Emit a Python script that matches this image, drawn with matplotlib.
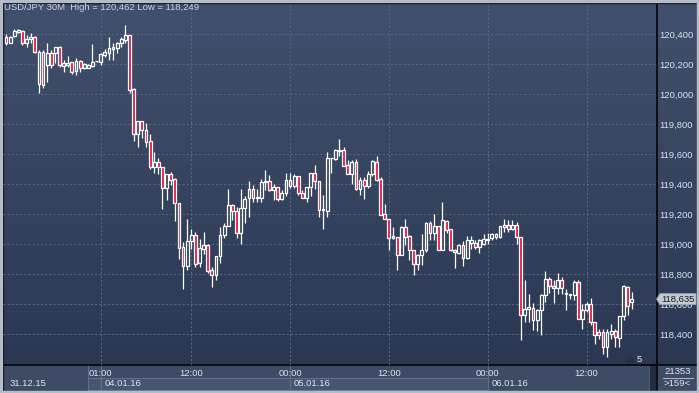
import matplotlib
matplotlib.use("Agg")
import matplotlib.pyplot as plt
import matplotlib.transforms as mtransforms
from matplotlib.patches import Rectangle, Polygon
from matplotlib.lines import Line2D
import numpy as np

plt.rcParams['font.family'] = ['Liberation Sans', 'DejaVu Sans']

# ---------------- data (USD/JPY, 30M candles) ----------------
opens = [
    120.380, 120.342, 120.387, 120.416, 120.422, 120.338, 120.365, 120.382, 120.065, 120.282,
    120.194, 120.272, 120.272, 120.316, 120.189, 120.194, 120.212, 120.154, 120.220, 120.172,
    120.172, 120.189, 120.218, 120.216, 120.260, 120.272, 120.298, 120.305, 120.338, 120.360,
    120.394, 120.034, 119.734, 119.820, 119.760, 119.687, 119.516, 119.545, 119.516, 119.376,
    119.465, 119.434, 119.278, 118.982, 118.856, 119.020, 119.060, 118.876, 118.972, 118.998,
    118.827, 118.798, 118.920, 119.065, 119.122, 119.260, 119.220, 119.078, 119.245, 119.309,
    119.367, 119.309, 119.309, 119.412, 119.420, 119.365, 119.385, 119.305, 119.345, 119.425,
    119.387, 119.452, 119.342, 119.309, 119.385, 119.478, 119.420, 119.227, 119.222, 119.575,
    119.571, 119.622, 119.627, 119.527, 119.471, 119.545, 119.367, 119.427, 119.389, 119.465,
    119.549, 119.438, 119.205, 119.172, 119.042, 119.049, 118.932, 119.116, 119.054, 118.960,
    118.871, 118.927, 118.960, 119.145, 119.078, 119.122, 118.965, 119.154, 119.100, 118.960,
    118.945, 118.994, 118.909, 119.012, 119.012, 118.982, 119.005, 119.027, 119.045, 119.049,
    119.049, 119.116, 119.127, 119.105, 119.127, 119.049, 118.527, 118.572, 118.578, 118.498,
    118.560, 118.660, 118.771, 118.722, 118.712, 118.760, 118.678, 118.671, 118.660, 118.749,
    118.505, 118.560, 118.600, 118.482, 118.416, 118.416, 118.316, 118.405, 118.422, 118.378,
    118.520, 118.716, 118.616]
highs = [
    120.400, 120.387, 120.432, 120.436, 120.427, 120.394, 120.405, 120.387, 120.294, 120.294,
    120.342, 120.294, 120.316, 120.320, 120.227, 120.254, 120.216, 120.238, 120.227, 120.207,
    120.200, 120.334, 120.222, 120.272, 120.298, 120.378, 120.338, 120.349, 120.382, 120.462,
    120.394, 120.040, 119.820, 119.820, 119.805, 119.734, 119.612, 119.572, 119.516, 119.465,
    119.482, 119.442, 119.278, 119.016, 119.167, 119.105, 119.082, 119.038, 119.082, 119.005,
    118.849, 118.920, 119.116, 119.145, 119.367, 119.271, 119.249, 119.367, 119.320, 119.420,
    119.394, 119.367, 119.438, 119.498, 119.460, 119.405, 119.385, 119.360, 119.478, 119.478,
    119.465, 119.452, 119.360, 119.385, 119.478, 119.527, 119.420, 119.327, 119.616, 119.578,
    119.638, 119.700, 119.645, 119.560, 119.560, 119.567, 119.449, 119.449, 119.487, 119.560,
    119.589, 119.449, 119.271, 119.172, 119.116, 119.049, 119.122, 119.172, 119.060, 118.960,
    118.938, 119.072, 119.149, 119.156, 119.200, 119.122, 119.282, 119.160, 119.100, 118.967,
    119.005, 119.020, 119.056, 119.054, 119.027, 119.034, 119.072, 119.076, 119.078, 119.076,
    119.122, 119.172, 119.160, 119.160, 119.149, 119.049, 118.765, 118.672, 118.609, 118.571,
    118.671, 118.820, 118.782, 118.760, 118.809, 118.782, 118.705, 118.671, 118.760, 118.760,
    118.600, 118.616, 118.645, 118.482, 118.438, 118.438, 118.438, 118.472, 118.438, 118.520,
    118.727, 118.720, 118.682]
lows = [
    120.327, 120.340, 120.380, 120.405, 120.327, 120.316, 120.338, 120.272, 120.005, 120.038,
    120.082, 120.172, 120.205, 120.182, 120.149, 120.182, 120.134, 120.127, 120.149, 120.167,
    120.172, 120.182, 120.216, 120.194, 120.249, 120.227, 120.227, 120.272, 120.316, 120.338,
    120.005, 119.687, 119.649, 119.707, 119.649, 119.500, 119.472, 119.467, 119.234, 119.294,
    119.394, 119.154, 118.905, 118.700, 118.827, 118.972, 118.849, 118.849, 118.938, 118.812,
    118.716, 118.765, 118.876, 119.042, 119.122, 119.160, 119.042, 119.005, 119.145, 119.182,
    119.282, 119.282, 119.282, 119.360, 119.354, 119.294, 119.287, 119.294, 119.322, 119.372,
    119.376, 119.331, 119.309, 119.282, 119.322, 119.367, 119.182, 119.105, 119.182, 119.478,
    119.560, 119.589, 119.522, 119.471, 119.400, 119.360, 119.327, 119.300, 119.376, 119.456,
    119.420, 119.194, 119.172, 118.960, 119.034, 118.827, 118.927, 118.994, 118.894, 118.798,
    118.827, 118.860, 118.949, 119.027, 119.027, 118.960, 118.960, 119.078, 118.954, 118.840,
    118.938, 118.856, 118.905, 118.972, 118.967, 118.945, 118.998, 119.005, 119.027, 119.038,
    119.045, 119.082, 119.082, 119.094, 119.000, 118.360, 118.482, 118.482, 118.427, 118.422,
    118.394, 118.616, 118.678, 118.612, 118.671, 118.667, 118.560, 118.638, 118.627, 118.505,
    118.438, 118.549, 118.460, 118.338, 118.372, 118.271, 118.249, 118.372, 118.316, 118.316,
    118.494, 118.527, 118.572]
closes = [
    120.340, 120.382, 120.422, 120.427, 120.342, 120.365, 120.382, 120.282, 120.282, 120.060,
    120.272, 120.194, 120.316, 120.194, 120.205, 120.209, 120.149, 120.220, 120.172, 120.198,
    120.194, 120.216, 120.220, 120.265, 120.282, 120.305, 120.316, 120.338, 120.365, 120.394,
    120.027, 119.734, 119.820, 119.760, 119.682, 119.516, 119.545, 119.516, 119.376, 119.465,
    119.427, 119.278, 118.976, 118.856, 119.020, 119.060, 118.871, 118.976, 118.998, 118.820,
    118.798, 118.920, 119.065, 119.122, 119.260, 119.220, 119.078, 119.245, 119.305, 119.367,
    119.309, 119.314, 119.412, 119.420, 119.360, 119.385, 119.305, 119.345, 119.425, 119.387,
    119.456, 119.342, 119.309, 119.385, 119.478, 119.420, 119.227, 119.232, 119.575, 119.578,
    119.627, 119.631, 119.522, 119.471, 119.549, 119.367, 119.427, 119.389, 119.465, 119.554,
    119.427, 119.198, 119.172, 119.042, 119.056, 118.932, 119.116, 119.049, 118.960, 118.871,
    118.927, 118.960, 119.145, 119.078, 119.122, 118.965, 119.160, 119.094, 118.960, 118.950,
    118.994, 118.909, 119.027, 119.027, 118.982, 119.027, 119.034, 119.038, 119.067, 119.067,
    119.122, 119.127, 119.100, 119.127, 119.049, 118.527, 118.572, 118.582, 118.498, 118.560,
    118.660, 118.771, 118.720, 118.712, 118.760, 118.712, 118.667, 118.660, 118.749, 118.505,
    118.560, 118.600, 118.482, 118.398, 118.394, 118.316, 118.416, 118.422, 118.382, 118.520,
    118.720, 118.587, 118.635]

price_ticks = [118.4, 118.6, 118.8, 119.0, 119.2, 119.4, 119.6, 119.8, 120.0, 120.2, 120.4]
time_ticks = [23, 45, 69, 93, 117, 141]          # candle index of each time label
time_labels = ['01:00', '12:00', '00:00', '12:00', '00:00', '12:00']
day_starts = [0, 23, 69, 117]                     # candle index where each date begins
day_labels = ['31.12.15', '04.01.16', '05.01.16', '06.01.16']
symbol = 'USD/JPY 30M'
bars_total = '21353'
bars_shown = '>159<'

# ---------------- figure ----------------
W, H = 699, 393
fig = plt.figure(figsize=(W / 100, H / 100), dpi=100)


def fx(px):
    return px / W


def fy(py):
    return 1 - py / H


# gradient background
bg = fig.add_axes([0, 0, 1, 1])
top_c = np.array([65, 80, 108]) / 255
bot_c = np.array([42, 54, 81]) / 255
t = np.linspace(0, 1, 256)[:, None, None]
grad = top_c[None, None, :] * (1 - t) + bot_c[None, None, :] * t
bg.imshow(grad, aspect='auto', extent=[0, 1, 0, 1], origin='upper')
bg.set_axis_off()
bg.set_zorder(-2)

ax = fig.add_axes([fx(3), fy(364.5), (656.5 - 3) / W, (364.5 - 3) / H])
ax.set_zorder(5)
ax.set_facecolor('none')
n = len(opens)
idx = np.arange(n)
o = np.array(opens); c = np.array(closes); h = np.array(highs); l = np.array(lows)

ax.set_xlim(-0.73, 158.0)
ax.set_ylim(118.2, 120.6067)

bull = c >= o
body_lo = np.minimum(o, c)
body_hi = np.maximum(o, c)
faces = ['none' if b else '#e2143d' for b in bull]
ax.vlines(idx, l, body_lo, color='white', lw=0.9, zorder=3)
ax.vlines(idx, body_hi, h, color='white', lw=0.9, zorder=3)
ax.bar(idx, body_hi - body_lo, bottom=body_lo, width=0.68, color=faces,
       edgecolor='white', linewidth=0.9, zorder=4)

# grid
ax.set_yticks(price_ticks)
ax.set_yticklabels([f"{v:.3f}".replace('.', ',') for v in price_ticks])
ax.set_xticks(time_ticks)
ax.set_xticklabels(time_labels)
ax.grid(True, color='#56678a', lw=0.75, linestyle=(0, (2, 2)))
ax.set_axisbelow(True)
ax.yaxis.tick_right()
ax.tick_params(axis='y', length=0, pad=2.2, labelsize=6.8, labelcolor='#dce3f0')
ax.tick_params(axis='x', length=0, pad=3.2, labelsize=6.8, labelcolor='#dce3f0')
for s in ax.spines.values():
    s.set_visible(False)

# title
fig.text(fx(4), fy(8), f"{symbol}  High = {max(highs):.3f} Low = {min(lows):.3f}".replace('.', ','),
         fontsize=6.8, color='#c9d2e3', va='center', ha='left', zorder=10)

# bottom panel
fig.patches.append(Rectangle((fx(3), fy(390)), fx(694), (390 - 364.5) / H,
                             transform=fig.transFigure, color='#3e4b65', zorder=1))
bl = mtransforms.blended_transform_factory(ax.transData, fig.transFigure)
# date boxes on lower row
box_edges = [20, 23, 69, 117]
for a, b in zip(box_edges[:-1], box_edges[1:]):
    fig.patches.append(Rectangle((a, fy(390)), b - a, (390 - 378) / H, transform=bl,
                                 facecolor='#475571', edgecolor='#5f6e8c', lw=0.8, zorder=1.5))
for e in box_edges:
    fig.lines.append(Line2D([e, e], [fy(365), fy(390)], transform=bl, color='#5f6e8c',
                            lw=0.8, zorder=1.6))
off = mtransforms.offset_copy(bl, fig=fig, x=4, units='dots')
for ds, dl in zip(day_starts, day_labels):
    fig.text(ds, fy(383.5), dl, transform=off, fontsize=6.8, color='#dce3f0',
             va='center', ha='left', zorder=10)

# scrollbar element
fig.patches.append(Rectangle((fx(650), fy(390)), fx(5), (390 - 366) / H,
                             transform=fig.transFigure, color='#222b3f', zorder=1.6))
fig.lines.append(Line2D([fx(648.5), fx(648.5)], [fy(366), fy(390)], transform=fig.transFigure,
                        color='#56657f', lw=0.8, zorder=1.6))

# bottom-right counters
fig.text(fx(677.5), fy(371.5), bars_total, fontsize=6.8, color='#dce3f0', ha='center', va='center', zorder=10)
fig.lines.append(Line2D([fx(663), fx(693)], [fy(378.3), fy(378.3)], transform=fig.transFigure,
                        color='#aab3c4', lw=0.8, zorder=2))
fig.text(fx(677.5), fy(384), bars_shown, fontsize=6.8, color='#dce3f0', ha='center', va='center', zorder=10)

# "5" marker at bottom right of plot
fig.patches.append(Polygon([[fx(626.5), fy(362)], [fx(634.5), fy(362)], [fx(630.5), fy(357)]],
                           closed=True, transform=fig.transFigure, color='#253047', zorder=2))
fig.text(fx(637), fy(359.5), '5', fontsize=6.8, color='#e6ebf5', ha='left', va='center', zorder=10)

# current price label
last = closes[-1]
yt = mtransforms.blended_transform_factory(fig.transFigure, ax.transData)
hh = 5.5 / 150
ax.add_patch(Polygon([[fx(656.5), last], [fx(660), last + hh], [fx(696), last + hh],
                      [fx(696), last - hh], [fx(660), last - hh]], closed=True, transform=yt,
                     facecolor='#c5c9d1', edgecolor='#9aa1ae', lw=0.6, zorder=20, clip_on=False))
ax.text(fx(678), last, f"{last:.3f}".replace('.', ','), transform=yt, fontsize=6.8,
        color='#1a1a1a', ha='center', va='center', zorder=21, clip_on=False)

# frame lines
for xs, ys, col, lw in [
    ([3, 697], [364.5, 364.5], 'black', 1.1),
    ([656.5, 656.5], [2.5, 390], 'black', 1.1),
    ([2.5, 697], [2.5, 2.5], 'black', 1.0),
    ([2.5, 2.5], [2.5, 390], 'black', 1.0),
]:
    fig.lines.append(Line2D([fx(v) for v in xs], [fy(v) for v in ys], transform=fig.transFigure,
                            color=col, lw=lw, zorder=3))
light = '#b4bccb'
for (x0, y0, w, hgt) in [(0, 0, 699, 2), (0, 0, 2, 393), (697, 0, 2, 393), (0, 390.5, 699, 2.5)]:
    fig.patches.append(Rectangle((fx(x0), fy(y0 + hgt)), w / W, hgt / H, transform=fig.transFigure,
                                 color=light, zorder=3))

fig.savefig('out.png', dpi=100)
